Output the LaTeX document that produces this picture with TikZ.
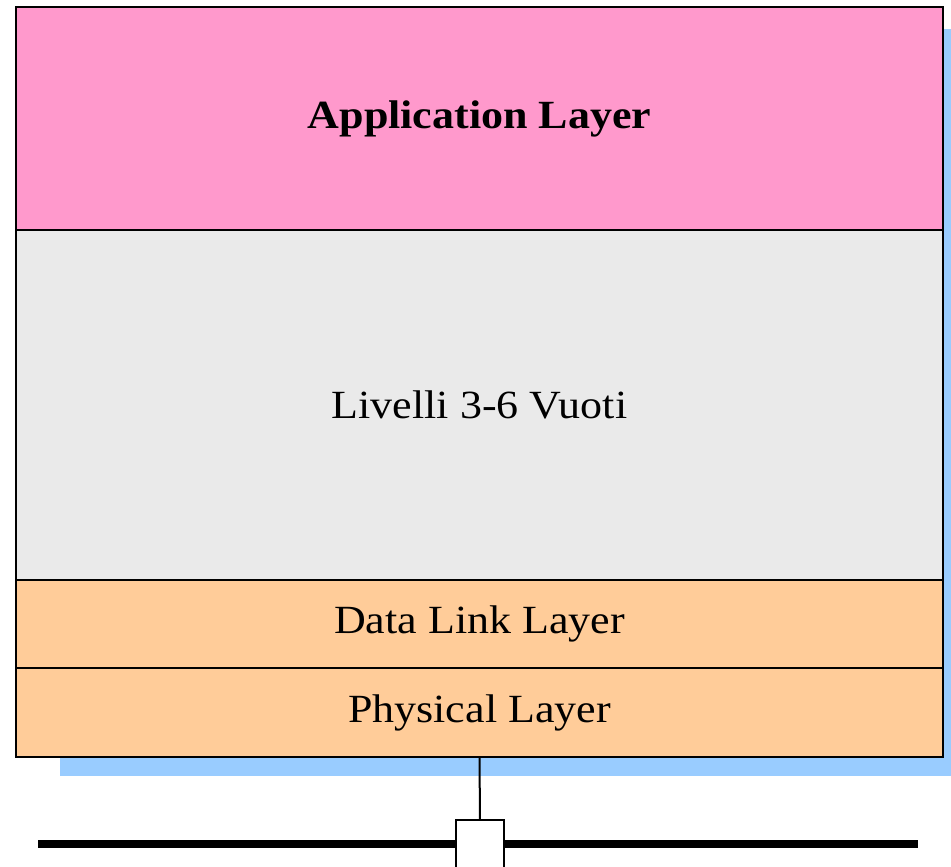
\documentclass[tikz,border=0pt]{standalone}
\usepackage{fontspec}
\setmainfont[FakeStretch=1.1]{Liberation Serif}
\definecolor{apppink}{HTML}{FF99CC}
\definecolor{voidgray}{HTML}{EAEAEA}
\definecolor{lowpeach}{HTML}{FFCC99}
\definecolor{shadowblue}{HTML}{99CCFF}
\begin{document}
\begin{tikzpicture}[x=1pt,y=-1pt,
  layer/.style={draw=black, line width=2pt, inner sep=0pt, outer sep=0pt,
    minimum width=927pt, anchor=north west, font=\fontsize{40}{48}\selectfont},
  tapbox/.style={draw=black, fill=white, line width=2pt, inner sep=0pt, outer sep=0pt,
    minimum width=48pt, minimum height=50pt, anchor=north}]
  \clip (0,0) rectangle (951,867);
  % drop shadow behind the stack
  \fill[shadowblue] (60,29) rectangle (951,776);
  % protocol stack
  \node[layer, fill=apppink, minimum height=223pt] (app) at (16,7) {\textbf{Application Layer}};
  \node[layer, fill=voidgray, minimum height=350pt] (mid) at (app.south west) {Livelli 3-6 Vuoti};
  \node[layer, fill=lowpeach, minimum height=88pt] (dll) at (mid.south west) {Data Link Layer};
  \node[layer, fill=lowpeach, minimum height=89pt] (phy) at (dll.south west) {Physical Layer};
  % shared medium and tap
  \coordinate (busL) at (38,844);
  \coordinate (busR) at (918,844);
  \draw[line width=8pt] (busL) -- (busR);
  \node[tapbox] (tap) at (480,820) {};
  \draw[line width=2pt] (phy.south) -- (tap.north);
\end{tikzpicture}
\end{document}
